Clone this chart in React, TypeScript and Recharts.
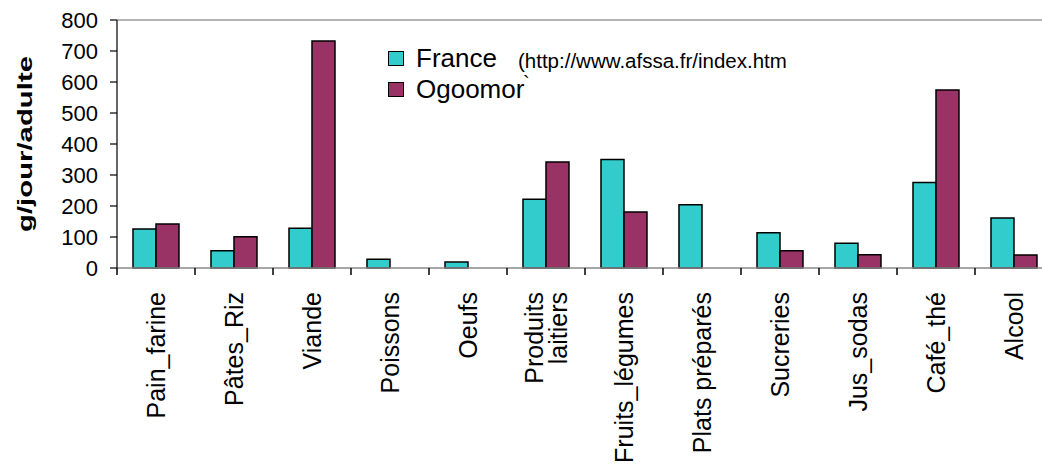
import React from "react";
import { BarChart, Bar, XAxis, YAxis, Legend, ReferenceLine } from "recharts";

const categories = [
  "Pain_farine",
  "Pâtes_Riz",
  "Viande",
  "Poissons",
  "Oeufs",
  "Produits laitiers",
  "Fruits_légumes",
  "Plats préparés",
  "Sucreries",
  "Jus_sodas",
  "Café_thé",
  "Alcool",
];
const france = [126, 56, 128, 28, 19, 222, 350, 204, 114, 80, 276, 161];
const ogoomor: (number | null)[] = [142, 101, 732, null, null, 342, 181, null, 56, 43, 574, 42];
const yTicks = [0, 100, 200, 300, 400, 500, 600, 700, 800];

const FONT = '"Liberation Sans", Arial, sans-serif';
const TEAL = "#33CCCC";
const PLUM = "#993366";
const LABEL_GAP = 24; // axis line -> end of rotated label

const data = categories.map((name, i) => ({
  name,
  France: france[i],
  Ogoomor: ogoomor[i],
}));

// category labels, rotated; tick marks drawn at the category edges (Excel style)
const CatTick = (props: any) => {
  const { x, y, payload, index, visibleTicksCount } = props;
  const half = typeof payload.offset === "number" ? payload.offset : 39;
  const axisY = y - LABEL_GAP;
  const lines: string[] =
    payload.value === "Produits laitiers" ? ["Produits", "laitiers"] : [payload.value];
  return (
    <g>
      <line x1={x - half} x2={x - half} y1={axisY} y2={axisY + 7} stroke="#000" strokeWidth={1.5} />
      {index === visibleTicksCount - 1 && (
        <line x1={x + half} x2={x + half} y1={axisY} y2={axisY + 7} stroke="#000" strokeWidth={1.5} />
      )}
      <g transform={`translate(${x},${y}) rotate(-90)`}>
        {lines.map((l, i) => (
          <text
            key={i}
            x={0}
            y={0}
            dy={(i - (lines.length - 1) / 2) * 24 + 9}
            textAnchor="end"
            fontSize={25}
            fontFamily={FONT}
            fill="#000"
          >
            {l}
          </text>
        ))}
      </g>
    </g>
  );
};

const YTitle = (props: any) => {
  const vb = props.viewBox || { x: 0, y: 20, width: 117, height: 248 };
  const cx = vb.x + 32;
  const cy = vb.y + vb.height / 2;
  return (
    <text
      x={cx}
      y={cy}
      transform={`rotate(-90 ${cx} ${cy})`}
      textAnchor="middle"
      fontSize={21}
      fontWeight="bold"
      fontFamily={FONT}
      textLength={176}
      lengthAdjust="spacingAndGlyphs"
      fill="#000"
    >
      g/jour/adulte
    </text>
  );
};

const LegendBox = () => (
  <div style={{ position: "relative", fontFamily: FONT, color: "#000", width: 420, height: 80 }}>
    {[
      { label: "France", color: TEAL, top: 0 },
      { label: "Ogoomor", color: PLUM, top: 31 },
    ].map((e) => (
      <div key={e.label} style={{ position: "absolute", left: 0, top: e.top, height: 30, display: "flex", alignItems: "center" }}>
        <span
          style={{
            display: "inline-block",
            width: 14,
            height: 13,
            background: e.color,
            border: "1.5px solid #000",
          }}
        />
        <span style={{ fontSize: 26, marginLeft: 12, lineHeight: "30px" }}>{e.label}</span>
      </div>
    ))}
    <span style={{ position: "absolute", left: 130, top: 7, fontSize: 20.5, lineHeight: "22px", whiteSpace: "nowrap" }}>
      (http://www.afssa.fr/index.htm
    </span>
    <span style={{ position: "absolute", left: 135, top: 34, fontSize: 20, lineHeight: "12px" }}>`</span>
  </div>
);

export default function App() {
  return (
    <div
      style={{
        position: "fixed",
        left: 0,
        top: 0,
        width: 1042,
        height: 466,
        overflow: "hidden",
        background: "#fff",
      }}
    >
      <BarChart
        width={1053}
        height={466}
        data={data}
        margin={{ top: 20, right: 0, bottom: 0, left: 0 }}
        barCategoryGap="20.5%"
        barGap={0}
      >
        <XAxis
          dataKey="name"
          interval={0}
          height={198}
          axisLine={{ stroke: "#888", strokeWidth: 1.5 }}
          tickLine={false}
          tickSize={0}
          tickMargin={LABEL_GAP}
          tick={<CatTick />}
        />
        <YAxis
          width={117}
          domain={[0, 800]}
          ticks={yTicks}
          interval={0}
          tickSize={7}
          tickMargin={12}
          axisLine={{ stroke: "#333", strokeWidth: 1.5 }}
          tickLine={{ stroke: "#000", strokeWidth: 1.2 }}
          tick={{ fontSize: 22, fontFamily: FONT, fill: "#000" }}
          label={<YTitle />}
        />
        <ReferenceLine y={800} stroke="#999" strokeWidth={1.5} />
        <Legend
          layout="horizontal"
          verticalAlign="middle"
          align="center"
          content={<LegendBox />}
          wrapperStyle={{ position: "absolute", left: 388, top: 43, width: 420, height: 80 }}
        />
        <Bar dataKey="France" fill={TEAL} stroke="#000" strokeWidth={1.5} isAnimationActive={false} />
        <Bar dataKey="Ogoomor" fill={PLUM} stroke="#000" strokeWidth={1.5} isAnimationActive={false} />
      </BarChart>
    </div>
  );
}
